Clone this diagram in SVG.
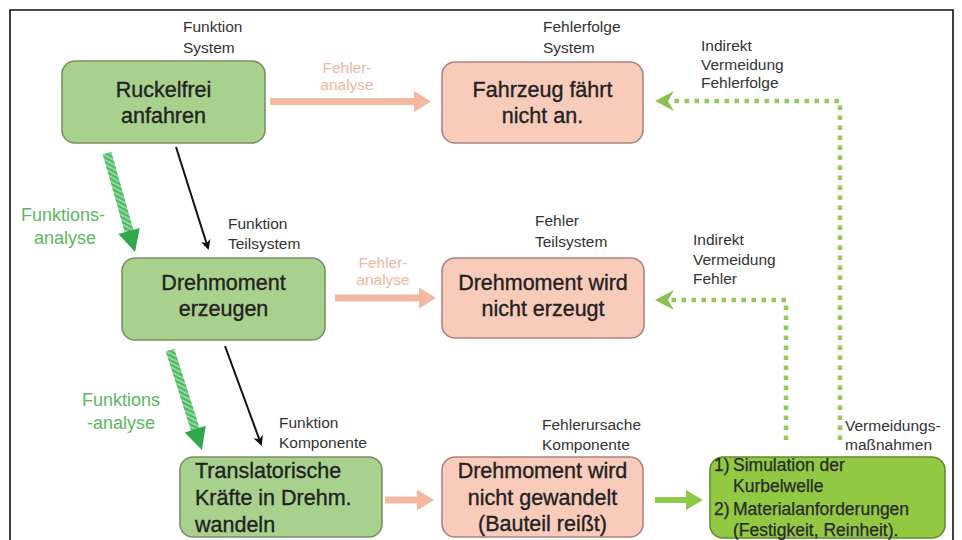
<svg xmlns="http://www.w3.org/2000/svg" width="962" height="540" viewBox="0 0 962 540">
<defs>
<style>
.lbl{font-family:"Liberation Sans",Arial,sans-serif;font-size:15.5px;fill:#333}
.big{font-family:"Liberation Sans",Arial,sans-serif;font-size:21.5px;fill:#222;stroke:#222;stroke-width:0.35}
.mid{text-anchor:middle}
.pinkt{font-family:"Liberation Sans",Arial,sans-serif;font-size:15.5px;fill:#f3b5a0;text-anchor:middle}
.greent{font-family:"Liberation Sans",Arial,sans-serif;font-size:18px;fill:#5cb861;text-anchor:middle}
.gbox{fill:#a9d18e;stroke:#7a8f66;stroke-width:1.6}
.pbox{fill:#f8cbbb;stroke:#a8857f;stroke-width:1.6}
.lbox{fill:#92c842;stroke:#5f8c2e;stroke-width:1.6}
.list{font-family:"Liberation Sans",Arial,sans-serif;font-size:17.5px;fill:#2a2a2a;stroke:#2a2a2a;stroke-width:0.25}
.dot{fill:none;stroke:#93c95a;stroke-width:4.5;stroke-dasharray:4.5 5.5}
.blk{stroke:#111;stroke-width:2;fill:none}
</style>
<marker id="ah" markerWidth="10" markerHeight="10" refX="8" refY="5" orient="auto" markerUnits="userSpaceOnUse">
<path d="M0,0 L10,5 L0,10 L3,5 Z" fill="#111"/>
</marker>
<pattern id="hatch" patternUnits="userSpaceOnUse" width="4" height="4" patternTransform="rotate(45)">
<rect width="4" height="4" fill="#8fd79c"/>
<rect width="1.6" height="4" fill="#3fb058"/>
</pattern>
</defs>
<rect x="0" y="0" width="962" height="540" fill="#fff"/>
<path d="M10,560 V10 H953 V560" fill="none" stroke="#111" stroke-width="1.6"/>

<g id="labels">
<text class="lbl" x="183" y="31.5">Funktion</text>
<text class="lbl" x="183" y="52.5">System</text>
<text class="lbl" x="543" y="31.5">Fehlerfolge</text>
<text class="lbl" x="543" y="52.5">System</text>
<text class="lbl" x="701" y="51">Indirekt</text>
<text class="lbl" x="701" y="69.5">Vermeidung</text>
<text class="lbl" x="701" y="88">Fehlerfolge</text>
<text class="lbl" x="228" y="229">Funktion</text>
<text class="lbl" x="228" y="249">Teilsystem</text>
<text class="lbl" x="535" y="226">Fehler</text>
<text class="lbl" x="535" y="247">Teilsystem</text>
<text class="lbl" x="693" y="245">Indirekt</text>
<text class="lbl" x="693" y="264.5">Vermeidung</text>
<text class="lbl" x="693" y="284">Fehler</text>
<text class="lbl" x="279" y="428">Funktion</text>
<text class="lbl" x="279" y="448">Komponente</text>
<text class="lbl" x="542" y="430">Fehlerursache</text>
<text class="lbl" x="542" y="450">Komponente</text>
<text class="lbl" x="845" y="431">Vermeidungs-</text>
<text class="lbl" x="845" y="450">maßnahmen</text>
<text class="pinkt" x="347" y="73">Fehler-</text>
<text class="pinkt" x="347" y="90">analyse</text>
<text class="pinkt" x="383" y="268">Fehler-</text>
<text class="pinkt" x="383" y="285">analyse</text>
<text class="greent" x="63" y="221">Funktions-</text>
<text class="greent" x="65" y="244">analyse</text>
<text class="greent" x="121" y="406">Funktions</text>
<text class="greent" x="121" y="429">-analyse</text>
</g>

<g id="connectors">
<path d="M270,98 H414 V91 L431,101.5 L414,112 V105 H270 Z" fill="#f4b7a2"/>
<path d="M335,294.5 H419 V287.5 L436,298 L419,308.5 V301.5 H335 Z" fill="#f4b7a2"/>
<path d="M385,496.5 H417 V489.5 L434,500 L417,510.5 V503.5 H385 Z" fill="#f4b7a2"/>
<path d="M655,497 H686 V490 L703,500 L686,510 V503 H655 Z" fill="#90c84a"/>
<line class="blk" x1="176" y1="147" x2="208" y2="248" marker-end="url(#ah)"/>
<line class="blk" x1="225" y1="346" x2="261" y2="444" marker-end="url(#ah)"/>
<g transform="translate(107,153) rotate(74.2)">
<path d="M0,-4.5 H82 V4.5 H0 Z" fill="url(#hatch)"/>
<path d="M81,-11 L103,0 L81,11 Z" fill="#30a84c"/>
</g>
<g transform="translate(170,350) rotate(72.3)">
<path d="M0,-4.5 H84 V4.5 H0 Z" fill="url(#hatch)"/>
<path d="M83,-11 L105,0 L83,11 Z" fill="#30a84c"/>
</g>
<path class="dot" d="M840,440 V101 H670"/>
<path d="M655,101 L674,91 L668,101 L674,111 Z" fill="#8cc152"/>
<path class="dot" d="M786,440 V300 H670"/>
<path d="M655,300 L674,290 L668,300 L674,310 Z" fill="#8cc152"/>
</g>

<g id="n1">
<rect class="gbox" x="62" y="61" width="203" height="82" rx="13"/>
<text class="big mid" x="163.5" y="97">Ruckelfrei</text>
<text class="big mid" x="163.5" y="123">anfahren</text>
</g>
<g id="n2">
<rect class="pbox" x="442" y="62" width="201" height="81" rx="13"/>
<text class="big mid" x="542.5" y="97">Fahrzeug fährt</text>
<text class="big mid" x="542.5" y="123">nicht an.</text>
</g>
<g id="n3">
<rect class="gbox" x="122" y="258" width="203" height="82" rx="13"/>
<text class="big mid" x="223.5" y="290">Drehmoment</text>
<text class="big mid" x="223.5" y="316">erzeugen</text>
</g>
<g id="n4">
<rect class="pbox" x="442" y="258" width="202" height="80" rx="13"/>
<text class="big mid" x="543" y="290">Drehmoment wird</text>
<text class="big mid" x="543" y="316">nicht erzeugt</text>
</g>
<g id="n5">
<rect class="gbox" x="180" y="457" width="202" height="80" rx="13"/>
<text class="big" x="195" y="478">Translatorische</text>
<text class="big" x="195" y="505">Kräfte in Drehm.</text>
<text class="big" x="195" y="532">wandeln</text>
</g>
<g id="n6">
<rect class="pbox" x="442" y="457" width="201" height="80" rx="13"/>
<text class="big mid" x="542.5" y="478">Drehmoment wird</text>
<text class="big mid" x="542.5" y="505">nicht gewandelt</text>
<text class="big mid" x="542.5" y="531">(Bauteil reißt)</text>
</g>
<g id="n7">
<rect class="lbox" x="710" y="457" width="235" height="81" rx="13"/>
<text class="list" x="714" y="471">1)</text>
<text class="list" x="733" y="471">Simulation der</text>
<text class="list" x="733" y="492">Kurbelwelle</text>
<text class="list" x="714" y="515">2)</text>
<text class="list" x="733" y="515">Materialanforderungen</text>
<text class="list" x="733" y="536">(Festigkeit, Reinheit).</text>
</g>
</svg>
